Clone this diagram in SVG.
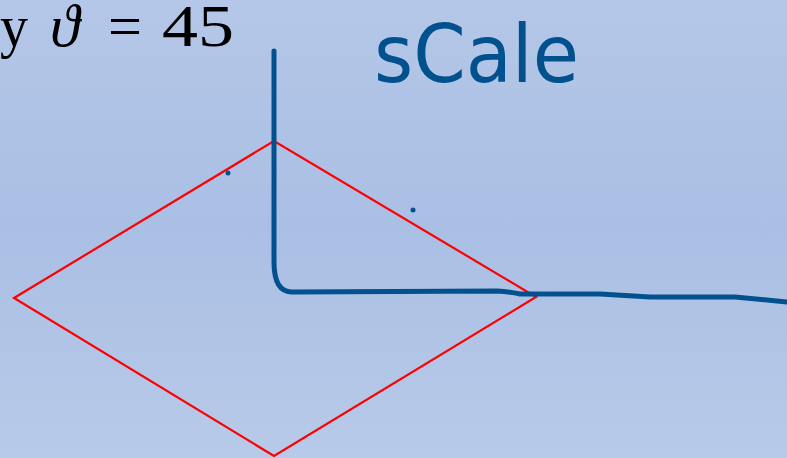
<svg xmlns="http://www.w3.org/2000/svg" width="787" height="458" viewBox="0 0 787 458">
<defs>
<linearGradient id="bg" x1="0" y1="0" x2="0" y2="1">
<stop offset="0" stop-color="#b4c7e8"/>
<stop offset="0.5" stop-color="#aabfe4"/>
<stop offset="1" stop-color="#b8cae9"/>
</linearGradient>
<style>
.ink{fill:none;stroke:#02518f;stroke-width:5;stroke-linecap:round;stroke-linejoin:round}
.math{font-family:"Liberation Serif","DejaVu Serif",serif;font-size:60px;fill:#000}
.hand{font-family:"DejaVu Sans","Liberation Sans",sans-serif;font-size:80px;fill:#02518f}
</style>
</defs>
<rect width="787" height="458" fill="url(#bg)"/>
<g id="title">
<text class="math" x="0" y="46" textLength="28" lengthAdjust="spacingAndGlyphs">y</text>
<text class="math" x="50" y="46" font-style="italic" font-family="DejaVu Serif, serif" font-size="50">ϑ</text>
<text class="math" x="108" y="46" textLength="34" lengthAdjust="spacingAndGlyphs">=</text>
<text class="math" x="162" y="46" textLength="72" lengthAdjust="spacingAndGlyphs">45</text>
</g>
<g id="scale-label">
<text class="hand" x="374" y="82" textLength="205" lengthAdjust="spacingAndGlyphs">sCale</text>
</g>
<g id="rhombus">
<polygon points="14,298 274,141 536,297 274,456" fill="none" stroke="#ff0000" stroke-width="2.2"/>
</g>
<g id="axes">
<path class="ink" d="M274,51 L274,262 Q274,292 292,292 L497,291 Q510,292 520,294 L600,294 L650,297 L735,297 L787,302"/>
<circle cx="228" cy="173" r="2.5" fill="#02518f"/>
<circle cx="413" cy="210" r="2.5" fill="#02518f"/>
</g>
</svg>
